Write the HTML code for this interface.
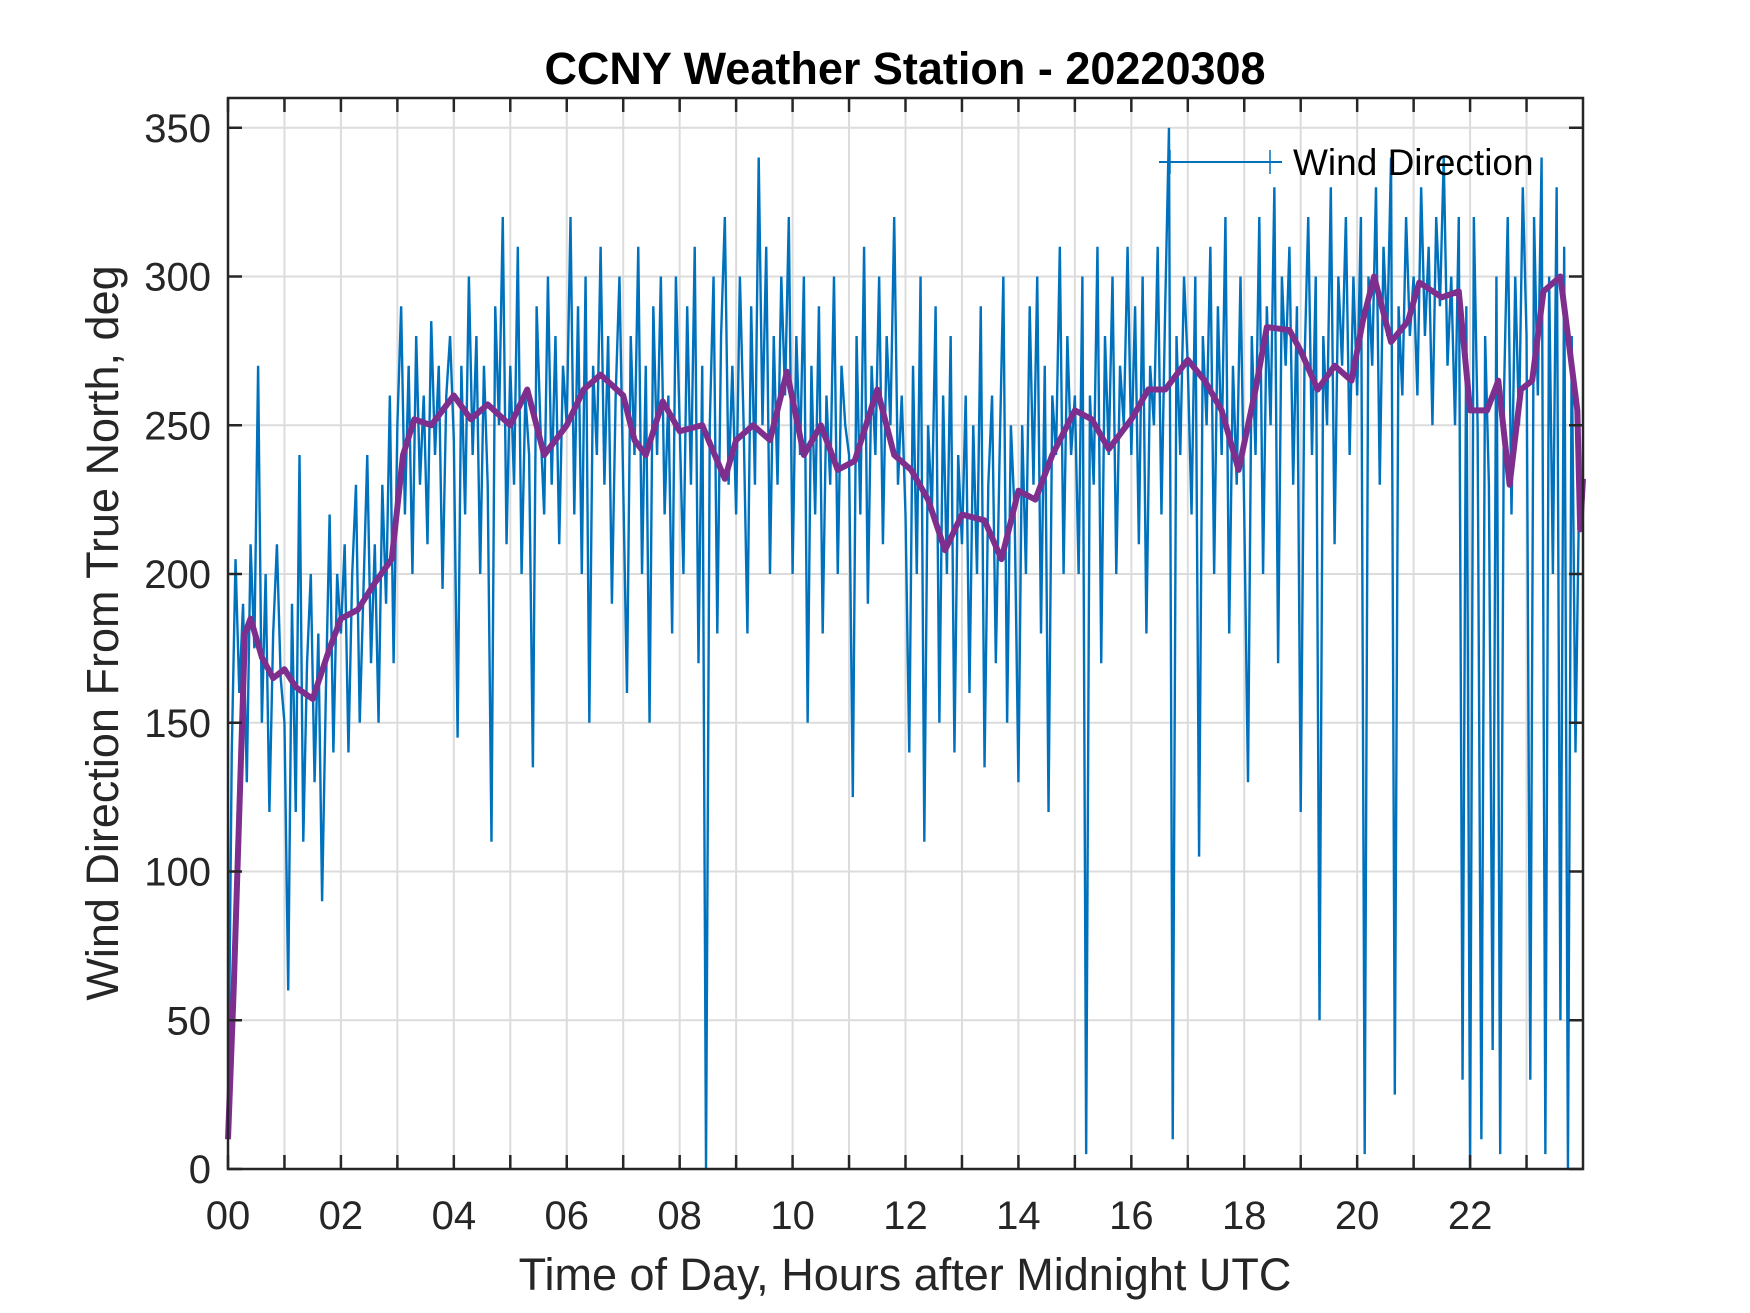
<!DOCTYPE html>
<html><head><meta charset="utf-8"><style>html,body{margin:0;padding:0;background:#fff}svg{display:block}</style></head>
<body>
<svg id="chart" width="1750" height="1313" viewBox="0 0 1750 1313" xmlns="http://www.w3.org/2000/svg" font-family="Liberation Sans, Arial, sans-serif">
<rect width="1750" height="1313" fill="#fff"/>
<g id="grid"></g>
<g id="series"></g>
<g id="axes"></g>
<text x="905" y="84" text-anchor="middle" font-size="45" font-weight="bold" fill="#000">CCNY Weather Station - 20220308</text>
<text x="905" y="1290" text-anchor="middle" font-size="45" fill="#262626">Time of Day, Hours after Midnight UTC</text>
<text transform="translate(118,633) rotate(-90)" text-anchor="middle" font-size="45" fill="#262626">Wind Direction From True North, deg</text>
<g>
<line x1="1159" y1="162" x2="1282" y2="162" stroke="#0072BD" stroke-width="2"/>
<line x1="1170" y1="150" x2="1170" y2="174" stroke="#0072BD" stroke-width="1.5"/>
<line x1="1270" y1="150" x2="1270" y2="174" stroke="#0072BD" stroke-width="1.5"/>
<text x="1293" y="175" font-size="37" fill="#000">Wind Direction</text>
</g>
</svg>
<script>
const xTickLabels = ["00","02","04","06","08","10","12","14","16","18","20","22"];
const yTickValues = [0,50,100,150,200,250,300,350];
const rawDirection = [
10,140,205,160,190,130,210,175,270,150,200,120,180,210,165,
150,60,190,120,240,110,170,200,130,180,90,160,220,140,200,
180,210,140,200,230,150,195,240,170,210,150,230,190,260,170,
250,290,220,270,200,280,230,260,210,285,240,270,195,260,280,
245,145,270,220,300,240,280,200,270,230,110,290,250,320,210,
270,230,310,200,260,240,135,290,250,220,300,230,280,210,270,
250,320,220,290,200,300,150,270,240,310,230,280,190,260,300,
230,160,280,240,310,200,270,150,290,240,300,220,260,180,300,
250,200,290,230,310,170,270,0,250,300,180,280,320,230,270,
220,300,250,180,290,230,340,250,310,200,280,230,300,260,320,
200,280,240,300,150,270,220,290,180,260,230,300,200,270,250,
240,125,280,220,310,190,270,240,300,210,280,250,320,230,260,
220,140,270,200,300,110,250,220,290,150,260,200,280,140,240,
210,260,160,250,200,290,135,230,260,170,240,300,150,250,220,
130,250,200,290,230,300,180,270,120,260,240,310,200,280,240,
260,200,300,5,260,230,310,170,280,240,300,200,270,250,310,
240,290,210,300,180,270,250,310,220,290,350,10,280,240,300,
270,220,300,105,280,250,310,200,290,240,320,180,270,230,300,
220,130,280,240,320,200,290,250,330,170,300,270,310,230,290,
120,270,320,240,300,50,280,250,330,210,300,270,320,240,300,
260,320,5,300,270,330,230,310,280,340,25,290,260,320,280,
300,260,330,280,310,250,320,290,340,270,300,250,320,30,290,
0,320,250,10,280,230,40,300,5,260,320,220,300,250,330,
280,30,320,260,340,5,300,200,330,50,310,0,280,140,230];
const meanHours = [0,0.1,0.3,0.4,0.6,0.8,1.0,1.2,1.5,1.8,2.0,2.3,2.6,2.9,3.1,3.3,3.6,4.0,4.3,4.6,5.0,5.3,5.6,6.0,6.3,6.6,7.0,7.2,7.4,7.7,8.0,8.4,8.8,9.0,9.3,9.6,9.9,10.2,10.5,10.8,11.1,11.5,11.8,12.1,12.4,12.7,13.0,13.4,13.7,14.0,14.3,14.6,15.0,15.3,15.6,16.0,16.3,16.6,17.0,17.3,17.6,17.9,18.2,18.4,18.8,19.0,19.3,19.6,19.9,20.1,20.3,20.6,20.9,21.1,21.5,21.8,22.0,22.3,22.5,22.7,22.9,23.1,23.3,23.6,23.8,23.9,23.95,24.0];
const meanDirection = [10,60,180,185,172,165,168,162,158,175,185,188,197,205,240,252,250,260,252,257,250,262,240,250,262,267,260,245,240,258,248,250,232,245,250,245,268,240,250,235,238,262,240,235,225,208,220,218,205,228,225,240,255,252,242,252,262,262,272,265,255,235,262,283,282,275,262,270,265,285,300,278,285,298,293,295,255,255,265,230,262,265,295,300,270,255,215,232];

const L=228,R=1583,T=98,B=1169;
const xs=h=>L+(h/24)*(R-L);
const ys=v=>B-(v/360)*(B-T);
const NS="http://www.w3.org/2000/svg";
function mk(tag,attrs,parent){const e=document.createElementNS(NS,tag);for(const k in attrs)e.setAttribute(k,attrs[k]);parent.appendChild(e);return e;}
const grid=document.getElementById('grid'),axes=document.getElementById('axes'),series=document.getElementById('series');
for(let h=1;h<24;h++){const g=mk('line',{x1:xs(h),x2:xs(h),y1:T,y2:B,stroke:'#dcdcdc','stroke-width':2},grid);

}
yTickValues.forEach(v=>{if(v>0){const g=mk('line',{x1:L,x2:R,y1:ys(v),y2:ys(v),stroke:'#dcdcdc','stroke-width':2},grid);

}});
const n=rawDirection.length;
const pts=rawDirection.map((v,i)=>xs(i*24/n)+','+ys(v)).join(' ');
const raw=mk('polyline',{points:pts,fill:'none',stroke:'#0072BD','stroke-width':2.4,'stroke-linejoin':'miter'},series);


const mp=meanHours.map((h,i)=>xs(h)+','+ys(meanDirection[i])).join(' ');
const mean=mk('polyline',{points:mp,fill:'none',stroke:'#7E2F8E','stroke-width':6,'stroke-linejoin':'round'},series);


const box=mk('rect',{x:L,y:T,width:R-L,height:B-T,fill:'none',stroke:'#262626','stroke-width':2.5},axes);


for(let h=0;h<24;h++){
 const t1=mk('line',{x1:xs(h),x2:xs(h),y1:B,y2:B-14,stroke:'#262626','stroke-width':2.5},axes);
 
 
 const t2=mk('line',{x1:xs(h),x2:xs(h),y1:T,y2:T+14,stroke:'#262626','stroke-width':2.5},axes);
 
 
}
xTickLabels.forEach((s,i)=>{const t=mk('text',{x:xs(i*2),y:1229,'text-anchor':'middle','font-size':40,fill:'#262626'},axes);t.textContent=s;

});
yTickValues.forEach(v=>{
 const a=mk('line',{x1:L,x2:L+14,y1:ys(v),y2:ys(v),stroke:'#262626','stroke-width':2.5},axes);
 
 
 const b=mk('line',{x1:R,x2:R-14,y1:ys(v),y2:ys(v),stroke:'#262626','stroke-width':2.5},axes);
 
 
 const t=mk('text',{x:211,y:ys(v)+14,'text-anchor':'end','font-size':40,fill:'#262626'},axes);t.textContent=v;
 
 
});
</script>
</body></html>
